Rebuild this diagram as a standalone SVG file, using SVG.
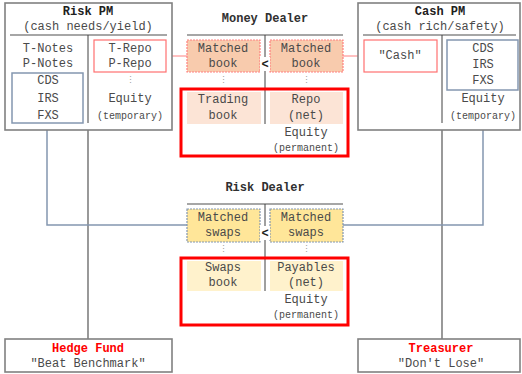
<svg xmlns="http://www.w3.org/2000/svg" width="522" height="374" viewBox="0 0 522 374">
<style>
text{font-family:"Liberation Mono","Courier New",monospace;font-size:12px;fill:#4a4a4a;text-anchor:middle;dominant-baseline:central}
.t{font-weight:bold;fill:#202020}
.rt{font-weight:bold;fill:#ff0000}
.s{font-size:10px}
.frame{fill:#fff;stroke:#808080;stroke-width:1.6}
.hl{stroke:#a6a6a6;stroke-width:2}
.div{stroke:#404040;stroke-width:1}
.gl{stroke:#808080;stroke-width:1.6;fill:none}
.bl{stroke:#8497b0;stroke-width:1.5;fill:none}
.rl{stroke:#ff8080;stroke-width:1;fill:none}
.rbox{fill:none;stroke:#ff7070;stroke-width:1.2}
.bbox{fill:none;stroke:#8497b0;stroke-width:1.5}
.mb{fill:#f8cbad;stroke:#ff8080;stroke-width:1.2;stroke-dasharray:2 1}
.tb{fill:#fce4d6}
.ms{fill:#ffe699;stroke:#8497b0;stroke-width:1.2;stroke-dasharray:2 1}
.sb{fill:#fff2cc}
.big{fill:none;stroke:#ff0000;stroke-width:3}
.dots{fill:#a0a0a0;font-size:9px}
.lt{font-weight:bold;fill:#303030;font-size:12px}
</style>
<g id="connectors">
<line class="gl" x1="88" y1="130" x2="88" y2="339"/>
<line class="gl" x1="442" y1="130" x2="442" y2="339"/>
<polyline class="bl" points="47,123 47,225 187,225"/>
<polyline class="bl" points="483,90 483,225 343,225"/>
<line class="rl" x1="166" y1="56" x2="187" y2="56"/>
<line class="rl" x1="343" y1="56" x2="364" y2="56"/>
</g>
<g id="risk-pm">
<rect class="frame" x="5" y="3" width="167" height="127"/>
<text class="t" x="88" y="12">Risk PM</text>
<text x="88" y="27">(cash needs/yield)</text>
<line class="hl" x1="10" y1="35" x2="167" y2="35"/>
<line class="div" x1="88" y1="35" x2="88" y2="123"/>
<text x="48" y="49">T-Notes</text>
<text x="48" y="64">P-Notes</text>
<rect class="bbox" x="12" y="73" width="71" height="50"/>
<text x="48" y="81">CDS</text>
<text x="48" y="99">IRS</text>
<text x="48" y="116">FXS</text>
<rect class="rbox" x="94" y="40" width="72" height="32"/>
<text x="130" y="49">T-Repo</text>
<text x="130" y="64">P-Repo</text>
<text class="dots" x="130" y="81">⋮</text>
<text x="130" y="99">Equity</text>
<text class="s" x="130" y="116">(temporary)</text>
</g>
<g id="money-dealer">
<text class="lt" x="265" y="19">Money Dealer</text>
<line class="hl" x1="187" y1="35" x2="343" y2="35"/>
<rect class="tb" x="187" y="92" width="74" height="32"/>
<rect class="tb" x="270" y="92" width="73" height="32"/>
<line class="div" x1="265" y1="35" x2="265" y2="124"/>
<rect class="mb" x="187" y="40" width="73" height="32"/>
<rect class="mb" x="270" y="40" width="73" height="32"/>
<text x="223" y="49">Matched</text>
<text x="223" y="64">book</text>
<text x="306" y="49">Matched</text>
<text x="306" y="64">book</text>
<rect x="260" y="57" width="10" height="14" fill="#fff"/>
<text class="t" x="265" y="65">&lt;</text>
<text class="dots" x="223" y="81">⋮</text>
<text class="dots" x="306" y="81">⋮</text>
<rect class="big" x="181" y="89" width="167" height="67"/>
<text x="223" y="100">Trading</text>
<text x="223" y="116">book</text>
<text x="306" y="100">Repo</text>
<text x="306" y="116">(net)</text>
<text x="306" y="133">Equity</text>
<text class="s" x="306" y="148">(permanent)</text>
</g>
<g id="cash-pm">
<rect class="frame" x="358" y="3" width="162" height="127"/>
<text class="t" x="440" y="12">Cash PM</text>
<text x="440" y="27">(cash rich/safety)</text>
<line class="hl" x1="363" y1="35" x2="516" y2="35"/>
<line class="div" x1="442" y1="35" x2="442" y2="123"/>
<rect class="rbox" x="364" y="40" width="73" height="32"/>
<text x="400" y="56">"Cash"</text>
<rect class="bbox" x="447" y="40" width="71" height="50"/>
<text x="483" y="49">CDS</text>
<text x="483" y="65">IRS</text>
<text x="483" y="81">FXS</text>
<text x="483" y="99">Equity</text>
<text class="s" x="483" y="116">(temporary)</text>
</g>
<g id="risk-dealer">
<text class="lt" x="265" y="188">Risk Dealer</text>
<line class="hl" x1="187" y1="204" x2="343" y2="204"/>
<rect class="sb" x="187" y="261" width="74" height="30"/>
<rect class="sb" x="270" y="261" width="73" height="30"/>
<line class="div" x1="265" y1="204" x2="265" y2="291"/>
<rect class="ms" x="187" y="209" width="73" height="33"/>
<rect class="ms" x="270" y="209" width="73" height="33"/>
<text x="223" y="218">Matched</text>
<text x="223" y="233">swaps</text>
<text x="306" y="218">Matched</text>
<text x="306" y="233">swaps</text>
<rect x="260" y="226" width="10" height="14" fill="#fff"/>
<text class="t" x="265" y="234">&lt;</text>
<text class="dots" x="223" y="250">⋮</text>
<text class="dots" x="306" y="250">⋮</text>
<rect class="big" x="181" y="258" width="167" height="67"/>
<text x="223" y="268">Swaps</text>
<text x="223" y="283">book</text>
<text x="306" y="268">Payables</text>
<text x="306" y="283">(net)</text>
<text x="306" y="300">Equity</text>
<text class="s" x="306" y="315">(permanent)</text>
</g>
<g id="hedge-fund">
<rect class="frame" x="5" y="339" width="167" height="33"/>
<text class="rt" x="88" y="349">Hedge Fund</text>
<text x="88" y="364">"Beat Benchmark"</text>
</g>
<g id="treasurer">
<rect class="frame" x="358" y="339" width="162" height="33"/>
<text class="rt" x="441" y="349">Treasurer</text>
<text x="441" y="364">"Don't Lose"</text>
</g>
</svg>
